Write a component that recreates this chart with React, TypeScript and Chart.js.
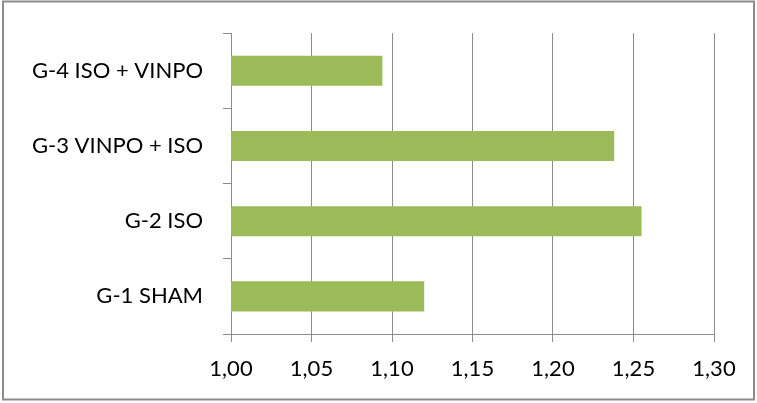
import React, { useEffect, useRef } from "react";
import { Chart, registerables } from "chart.js";

Chart.register(...registerables);

const categories = ["G-1 SHAM", "G-2 ISO", "G-3 VINPO + ISO", "G-4 ISO + VINPO"];
const values = [1.12, 1.255, 1.238, 1.094];
const xMin = 1.0;
const xMax = 1.3;
const xStep = 0.05;

const borderPlugin = {
  id: "outerBorder",
  afterDraw(chart: any) {
    const ctx = chart.ctx;
    ctx.save();
    ctx.strokeStyle = "#8c8c8c";
    ctx.lineWidth = 2;
    ctx.strokeRect(3, 1.5, 751, 398);
    ctx.restore();
  },
};

export default function App() {
  const ref = useRef<HTMLCanvasElement>(null);
  useEffect(() => {
    if (!ref.current) return;
    const chart = new Chart(ref.current, {
      type: "bar",
      data: {
        labels: categories,
        datasets: [
          {
            data: values,
            backgroundColor: "#9bbb59",
            borderWidth: 0,
            barPercentage: 0.4,
            categoryPercentage: 1,
          },
        ],
      },
      options: {
        indexAxis: "y",
        animation: false,
        responsive: false,
        maintainAspectRatio: false,
        layout: { padding: { left: 0, right: 43, top: 30, bottom: 0 } },
        plugins: { legend: { display: false }, tooltip: { enabled: false } },
        scales: {
          x: {
            min: xMin,
            max: xMax,
            ticks: {
              stepSize: xStep,
              color: "#000",
              font: { family: "Lato", size: 22 },
              padding: 14,
              callback: (v: any) => Number(v).toFixed(2).replace(".", ","),
            },
            grid: { color: "#8c8c8c", lineWidth: 1, tickLength: 8 },
            border: { color: "#8c8c8c", width: 1 },
            afterFit: (s: any) => {
              s.height = 69;
            },
          },
          y: {
            reverse: true,
            ticks: {
              color: "#000",
              font: { family: "Lato", size: 22 },
              padding: 20,
            },
            grid: { drawOnChartArea: false, color: "#8c8c8c", tickLength: 8, offset: true },
            border: { color: "#8c8c8c", width: 1 },
            afterFit: (s: any) => {
              s.width = 231;
            },
          },
        },
      },
      plugins: [borderPlugin],
    });
    return () => chart.destroy();
  }, []);
  return (
    <div style={{ position: "fixed", left: 0, top: 0, width: 757, height: 403, background: "#fff" }}>
      <canvas ref={ref} width={757} height={403} style={{ width: 757, height: 403 }} />
    </div>
  );
}
